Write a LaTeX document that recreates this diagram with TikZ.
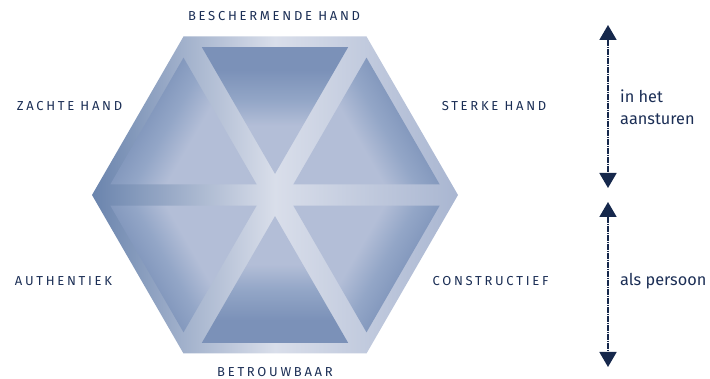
\documentclass[tikz,border=0pt]{standalone}
\usepackage{fontspec}
\setmainfont{Fira Sans}
\newfontfamily\capsfont[LetterSpace=21]{Fira Sans}
\usetikzlibrary{arrows.meta,calc}
\definecolor{navy}{HTML}{1B2E55}
\definecolor{arrowc}{HTML}{16284C}
\definecolor{hexL}{HTML}{6A84AD}
\definecolor{hexM}{HTML}{D9DEEA}
\definecolor{hexR}{HTML}{A9B6D1}
\definecolor{triD}{HTML}{7B91B8}
\definecolor{triM}{HTML}{93A6C7}
\definecolor{triL}{HTML}{B3BED7}
\pgfdeclareverticalshading{trishade}{100bp}{color(0bp)=(triL); color(25bp)=(triL); color(44bp)=(triL); color(54bp)=(triM); color(66bp)=(triD); color(100bp)=(triD)}
\tikzset{
  caplabel/.style={font=\capsfont\fontsize{13}{15}\selectfont, text=navy, inner sep=0pt},
  sidelabel/.style={font=\fontsize{16.3}{22}\selectfont, text=navy, inner sep=0pt, align=left, anchor=west},
  bidir/.style={draw=arrowc, line width=1.8pt, dash pattern=on 1.4pt off 0.4pt,
    {Triangle[width=17pt,length=15pt]}-{Triangle[width=17pt,length=15pt]}},
  tri/.style={shading=trishade}
}
\begin{document}
\begin{tikzpicture}[x=1pt,y=-1pt]
\useasboundingbox (0,0) rectangle (710,379);
% hexagon
\coordinate (C) at (275,195);
\coordinate (V0) at (458,195);
\coordinate (V1) at (366.5,36.5);
\coordinate (V2) at (183.5,36.5);
\coordinate (V3) at (92,195);
\coordinate (V4) at (183.5,353.5);
\coordinate (V5) at (366.5,353.5);
\shade[left color=hexL, right color=hexR, middle color=hexM]
  (V0) -- (V1) -- (V2) -- (V3) -- (V4) -- (V5) -- cycle;
% six inner triangles
\foreach \a/\b/\ang in {V1/V2/0, V2/V3/60, V3/V4/120, V4/V5/180, V5/V0/-120, V0/V1/-60}{
  \coordinate (G) at (barycentric cs:C=1,\a=1,\b=1);
  \shade[tri, shading angle=\ang]
    ($(G)!0.8!(C)$) -- ($(G)!0.8!(\a)$) -- ($(G)!0.8!(\b)$) -- cycle;
}
% labels
\node[caplabel] (top) at (274,16) {BESCHERMENDE HAND};
\node[caplabel] (zh) at (69.5,106) {ZACHTE HAND};
\node[caplabel] (sh) at (494,106) {STERKE HAND};
\node[caplabel] (au) at (63.5,281) {AUTHENTIEK};
\node[caplabel] (co) at (490.5,281) {CONSTRUCTIEF};
\node[caplabel] (be) at (275,372) {BETROUWBAAR};
% arrows
\coordinate (a1t) at (608,25);
\coordinate (a1b) at (608,188);
\coordinate (a2t) at (608,202);
\coordinate (a2b) at (608,367);
\draw[bidir] (a1t) -- (a1b);
\draw[bidir] (a2t) -- (a2b);
\node[sidelabel] (ih) at (620,107) {in het\\aansturen};
\node[sidelabel] (ap) at (620,281) {als persoon};
\end{tikzpicture}
\end{document}
